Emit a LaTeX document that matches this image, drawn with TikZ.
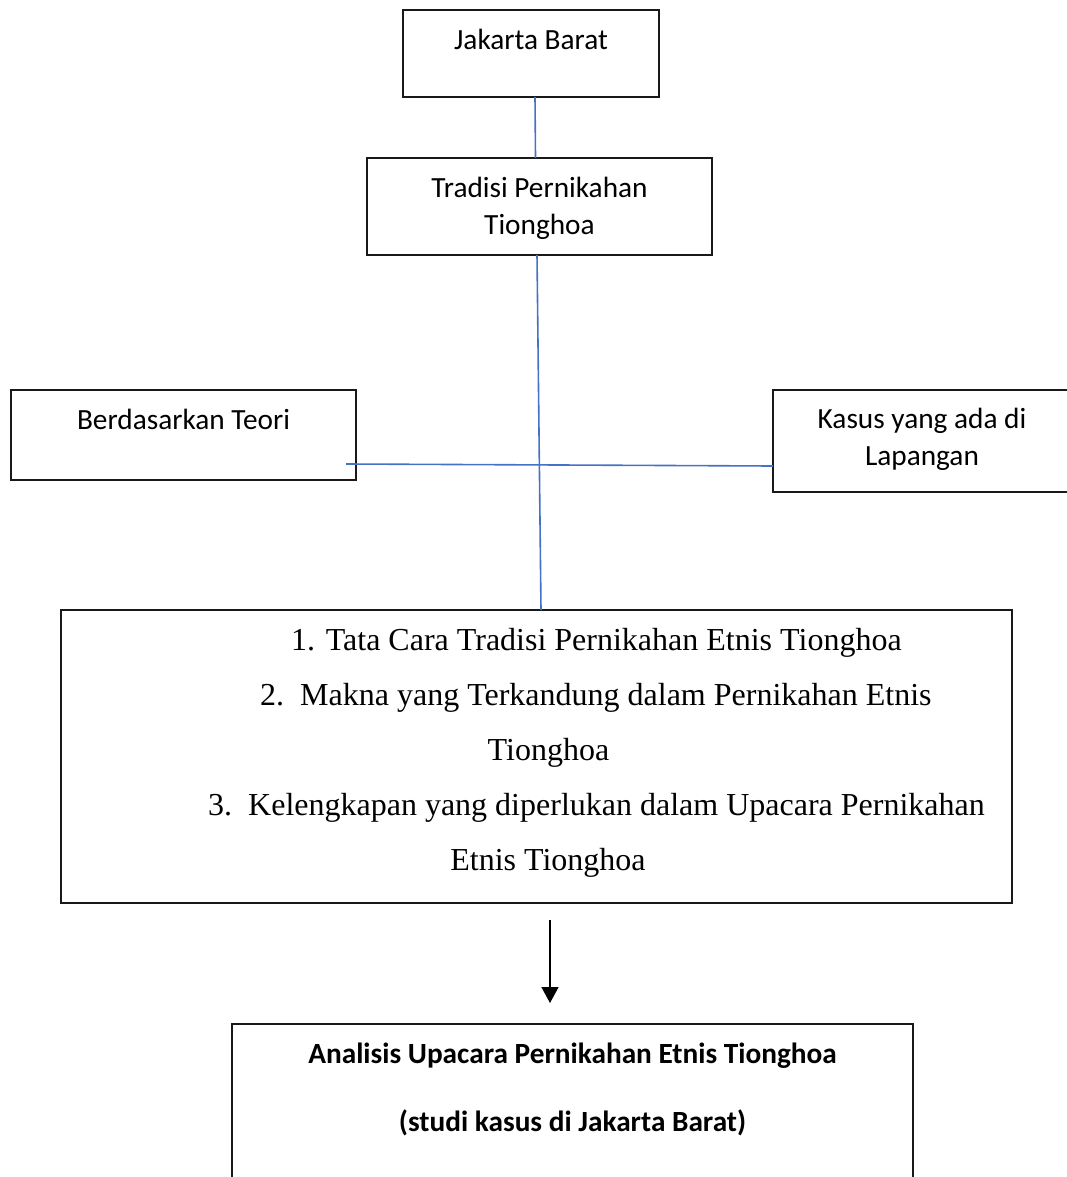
\documentclass[tikz,border=0pt]{standalone}
\usepackage{fontspec}
\setmainfont{Liberation Serif}
\newfontfamily\calibri{Carlito}
\usetikzlibrary{positioning,calc,arrows.meta}
\definecolor{garisbiru}{HTML}{4472C4}

\begin{document}
\begin{tikzpicture}[x=1pt,y=-1pt,
        kotak/.style={draw=black!90,line width=1.2pt,inner sep=0pt,outer sep=0pt},
        teks/.style={font=\calibri\fontsize{29.3}{37}\selectfont,align=center,inner sep=0pt},
        butir/.style={font=\fontsize{32}{55}\selectfont,inner sep=0pt},
        garis/.style={garisbiru,line width=1.6pt}]
        \clip (0,0) rectangle (1067,1177);
        % kotak atas
        \node[kotak,minimum width=256pt,minimum height=87pt] (jakarta) at (531,53.5) {};
        \node[teks,anchor=base] (tjakarta) at (531,50) {Jakarta Barat};
        \node[kotak,minimum width=345pt,minimum height=97pt] (tradisi) at (539.5,206.5) {};
        \node[teks,anchor=base] (ttradisi) at (539.5,234) {Tradisi Pernikahan\\Tionghoa};
        % kotak samping
        \node[kotak,minimum width=345pt,minimum height=90pt] (teori) at (183.5,435) {};
        \node[teks,anchor=base] (tteori) at (183.5,429) {Berdasarkan Teori};
        \node[kotak,minimum width=298pt,minimum height=102pt] (kasus) at (922,441) {};
        \node[teks,anchor=base] (tkasus) at (922,465) {Kasus yang ada di\\Lapangan};
        % kotak rumusan
        \node[kotak,minimum width=951pt,minimum height=293pt] (rumusan) at (536.5,756.5) {};
        \node[butir,anchor=base west] (satu) at (291,650) {1. Tata Cara Tradisi Pernikahan Etnis Tionghoa};
        \node[butir,anchor=base west] (dua) at (260,705) {2.\ \ Makna yang Terkandung dalam Pernikahan Etnis};
        \node[butir,anchor=base] (duab) at (548.5,760) {Tionghoa};
        \node[butir,anchor=base west] (tiga) at (208,815) {3.\ \ Kelengkapan yang diperlukan dalam Upacara Pernikahan};
        \node[butir,anchor=base] (tigab) at (548,870) {Etnis Tionghoa};
        % kotak hasil
        \node[kotak,minimum width=681pt,minimum height=200pt] (analisis) at (572.5,1124) {};
        \node[teks,font=\calibri\bfseries\fontsize{29.3}{37}\selectfont,anchor=base] (tanalisis) at (572.5,1131)
            {Analisis Upacara Pernikahan Etnis Tionghoa\\[31pt](studi kasus di Jakarta Barat)};
        % garis penghubung
        \coordinate (kiri) at ($(teori.east)+(-10,29)$);
        \coordinate (kanan) at ($(kasus.south west)+(0,-26)$);
        \draw[garis] ($(jakarta.south)+(4,0)$) -- ($(tradisi.north)+(-4,0)$);
        \draw[garis] ($(tradisi.south)+(-2.5,0)$) -- ($(rumusan.north)+(4.5,0)$);
        \draw[garis] (kiri) -- (kanan);
        \draw[line width=1.5pt,-{Triangle[width=17pt,length=16pt]}] ($(rumusan.south)+(13.5,17)$) -- ($(analisis.north)+(-22.5,-21)$);
\end{tikzpicture}
\end{document}
